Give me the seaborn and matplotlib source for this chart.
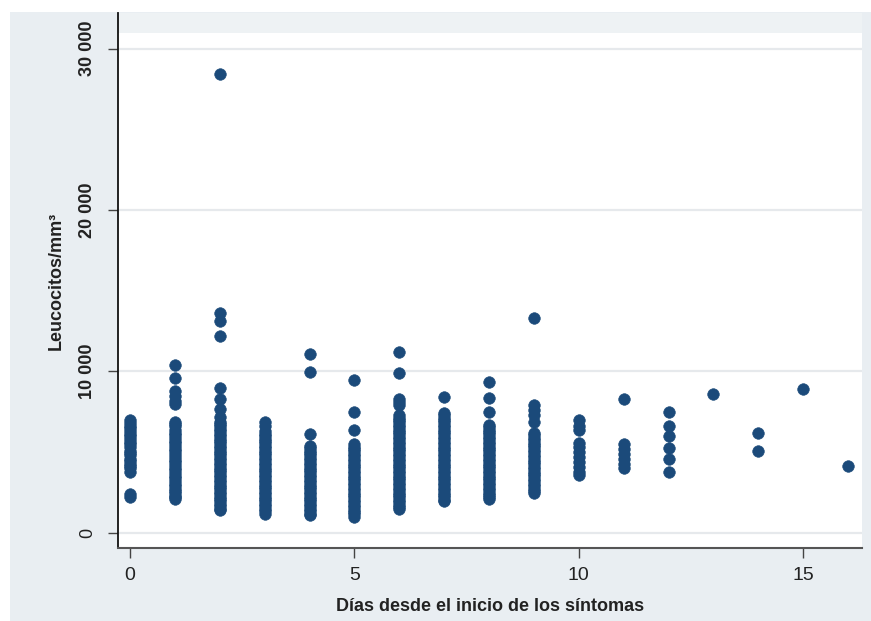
import matplotlib
matplotlib.use("Agg")
import matplotlib.pyplot as plt
import matplotlib.patches as mpatches
import seaborn as sns
import pandas as pd

# Leukocyte counts (per mm3) grouped by days since symptom onset
dia_0 = [7000, 6800, 6650, 6500, 6300, 6150, 6000, 5800, 5650, 5500, 5300, 5100, 4950, 4800, 4600,
         4450, 4300, 4150, 4000, 3800, 2400, 2200]
dia_1 = [10400, 9600, 8800, 8500, 8200, 8000, 6900, 6750, 6600, 6400, 6200, 6050, 5900, 5700, 5550,
         5400, 5200, 5050, 4900, 4700, 4550, 4400, 4200, 4050, 3900, 3700, 3550, 3400, 3200, 3050,
         2900, 2700, 2600, 2500, 2300, 2200, 2100]
dia_2 = [28400, 13600, 13100, 12200, 9000, 8300, 7700, 7200, 6900, 6750, 6600, 6450, 6300, 6150,
         6000, 5850, 5700, 5550, 5400, 5250, 5100, 4950, 4800, 4650, 4500, 4350, 4200, 4050, 3900,
         3750, 3600, 3450, 3300, 3150, 3000, 2850, 2700, 2550, 2400, 2250, 2100, 1950, 1800, 1650,
         1500, 1400]
dia_3 = [6900, 6600, 6300, 6150, 6000, 5850, 5700, 5550, 5400, 5250, 5100, 4950, 4800, 4650, 4500,
         4350, 4200, 4050, 3900, 3750, 3600, 3450, 3300, 3150, 3000, 2850, 2700, 2550, 2400, 2250,
         2100, 1950, 1800, 1650, 1500, 1350, 1200]
dia_4 = [11100, 9950, 6100, 5400, 5250, 5100, 4950, 4800, 4650, 4500, 4350, 4200, 4050, 3900, 3750,
         3600, 3450, 3300, 3150, 3000, 2850, 2700, 2550, 2400, 2250, 2100, 1950, 1800, 1650, 1500,
         1350, 1200, 1100]
dia_5 = [9450, 7500, 6400, 5500, 5350, 5200, 5050, 4900, 4750, 4600, 4450, 4300, 4150, 4000, 3850,
         3700, 3550, 3400, 3250, 3100, 2950, 2800, 2650, 2500, 2350, 2200, 2050, 1900, 1750, 1600,
         1450, 1300, 1150, 1000]
dia_6 = [11200, 9900, 8300, 8100, 7900, 7300, 7150, 7000, 6850, 6700, 6550, 6400, 6250, 6100, 5950,
         5800, 5650, 5500, 5350, 5200, 5050, 4900, 4750, 4600, 4450, 4300, 4150, 4000, 3850, 3700,
         3550, 3400, 3250, 3100, 2950, 2800, 2650, 2500, 2350, 2200, 2050, 1900, 1750, 1600, 1500]
dia_7 = [8400, 7450, 7300, 7150, 7000, 6850, 6700, 6550, 6400, 6250, 6100, 5950, 5800, 5650, 5500,
         5350, 5200, 5050, 4900, 4750, 4600, 4450, 4300, 4150, 4000, 3850, 3700, 3550, 3400, 3250,
         3100, 2950, 2800, 2650, 2500, 2350, 2200, 2050, 2000]
dia_8 = [9350, 8350, 7500, 6700, 6550, 6400, 6250, 6100, 5950, 5800, 5650, 5500, 5350, 5200, 5050,
         4900, 4750, 4600, 4450, 4300, 4150, 4000, 3850, 3700, 3550, 3400, 3250, 3100, 2950, 2800,
         2650, 2500, 2350, 2200, 2100]
dia_9 = [13300, 7950, 7600, 7300, 6900, 6200, 6050, 5900, 5750, 5600, 5450, 5300, 5150, 5000, 4850,
         4700, 4550, 4400, 4250, 4100, 3950, 3800, 3650, 3500, 3350, 3200, 3050, 2900, 2750, 2600,
         2500]
dia_10 = [7000, 6600, 6400, 5600, 5300, 5000, 4700, 4400, 4100, 3800, 3600]
dia_11 = [8300, 5500, 5200, 4900, 4600, 4300, 4000]
dia_12 = [7500, 6600, 6000, 5250, 4600, 3750]
dia_13 = [8600]
dia_14 = [6200, 5100]
dia_15 = [8900]
dia_16 = [4150]

grupos = [dia_0, dia_1, dia_2, dia_3, dia_4, dia_5, dia_6, dia_7, dia_8,
          dia_9, dia_10, dia_11, dia_12, dia_13, dia_14, dia_15, dia_16]

y_ticks = [0, 10000, 20000, 30000]
y_tick_labels = ["0", "10 000", "20 000", "30 000"]
x_ticks = [0, 5, 10, 15]

filas = [(d, v) for d, vals in enumerate(grupos) for v in vals]
df = pd.DataFrame(filas, columns=["dias", "leucocitos"])

sns.set_theme(style="white")
plt.rcParams["font.family"] = ["Liberation Sans", "DejaVu Sans"]

BG = "#e9eef2"
PUNTO = "#1b4a7a"

fig = plt.figure(figsize=(8.71, 6.21), dpi=100, facecolor=BG)
# white margins at the top and left edges of the canvas
fig.patches.append(mpatches.Rectangle((0, 0), 10 / 871, 1, transform=fig.transFigure,
                                      facecolor="white", edgecolor="none", zorder=0))
fig.patches.append(mpatches.Rectangle((0, 1 - 12 / 621), 1, 12 / 621, transform=fig.transFigure,
                                      facecolor="white", edgecolor="none", zorder=0))

ax = fig.add_axes([118 / 871, 1 - 548 / 621, (862 - 118) / 871, (548 - 13) / 621])
ax.set_facecolor("white")

# pale band along the top of the plot region
ax.add_patch(mpatches.Rectangle((0, 1 - 20 / 535), 1, 20 / 535, transform=ax.transAxes,
                                facecolor="#eef2f4", edgecolor="none", zorder=0))

for yv in y_ticks:
    ax.axhline(yv, color="#e6e9ec", lw=1.6, zorder=1)

sns.scatterplot(data=df, x="dias", y="leucocitos", ax=ax, color=PUNTO, s=70,
                edgecolor=PUNTO, linewidth=0.4, alpha=1, zorder=3, legend=False)

ax.set_xlim(-0.267, 16.31)
ax.set_ylim(-930, 32200)

ax.set_xticks(x_ticks)
ax.set_xticklabels([str(t) for t in x_ticks], fontsize=14, color="#222222")
ax.set_yticks(y_ticks)
ax.set_yticklabels(y_tick_labels, rotation=90, va="center", fontsize=13, color="#222222")
for lbl, txt in zip(ax.get_yticklabels(), y_tick_labels):
    lbl.set_fontweight("normal" if txt == "0" else "bold")

ax.tick_params(axis="x", direction="out", length=7, width=1, color="#444444", pad=7, bottom=True)
ax.tick_params(axis="y", direction="out", length=7, width=1, color="#444444", pad=9, left=True)

for side in ["top", "right"]:
    ax.spines[side].set_visible(False)
ax.spines["left"].set_color("#111111")
ax.spines["left"].set_linewidth(1.3)
ax.spines["bottom"].set_color("#555555")
ax.spines["bottom"].set_linewidth(1.5)

ax.set_xlabel("Días desde el inicio de los síntomas", fontsize=13, fontweight="bold",
              color="#222222", labelpad=10)
ax.set_ylabel("Leucocitos/mm³", fontsize=13, fontweight="bold", color="#222222", labelpad=10)

fig.savefig("out.png", dpi=100, facecolor=BG)
